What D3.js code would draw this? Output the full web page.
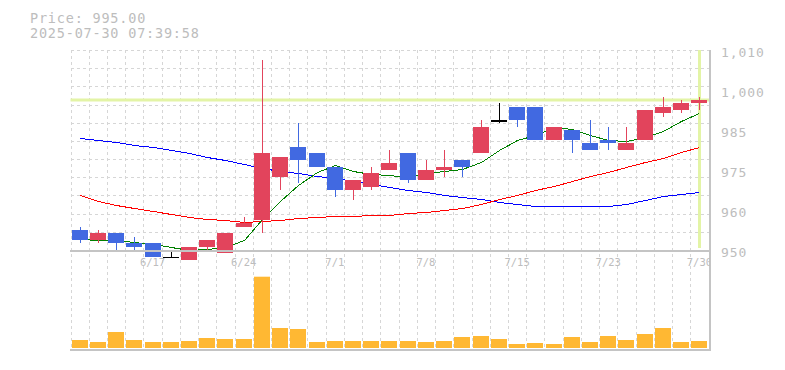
<!DOCTYPE html>
<html>
<head>
<meta charset="utf-8">
<script src="https://cdn.jsdelivr.net/npm/d3@7"></script>
<style>
  body { margin: 0; background: #fff; }
  text { font-family: "DejaVu Sans Mono", monospace; }
</style>
</head>
<body>
<script>
// daily candles, 6/11 - 7/30
const dates = ["6/11","6/12","6/13","6/16","6/17","6/18","6/19","6/20","6/23","6/24",
  "6/25","6/26","6/27","6/30","7/1","7/2","7/3","7/4","7/7","7/8",
  "7/9","7/10","7/11","7/14","7/15","7/16","7/17","7/18","7/22","7/23",
  "7/24","7/25","7/28","7/29","7/30"]
const opens  = [956,953,955,952,952,948,947,951,949,957,959,972,981,979,975,968,969,974,979,971,974,977,979,989,993,993,983,986,982,983,980,983,991,992,994]
const highs  = [957,956,955,954,952,950,951,953,955,960,1007,978,988,979,975,971,975,980,979,977,980,977,989,994,993,993,987,986,989,987,987,992,996,995,996]
const lows   = [952,952,950,950,948,948,947,950,949,957,955,968,970,975,966,965,968,974,970,971,972,972,979,988,987,983,983,979,980,980,980,983,990,991,992]
const closes = [953,955,952,951,948,948,951,953,955,958,979,978,977,975,968,971,973,976,971,974,975,975,987,989,989,983,987,983,980,982,982,992,993,994,995]
const volumes = [80000,60000,160000,80000,60000,60000,70000,100000,90000,90000,713000,200000,190000,60000,70000,70000,70000,70000,70000,60000,70000,110000,120000,90000,40000,50000,40000,110000,60000,120000,80000,140000,200000,60000,70000]

// moving averages
const maShort = [953.3,953.1,952.9,952.4,951.8,950.8,950.0,950.2,951.0,953.0,959.2,964.6,969.4,973.4,975.4,973.8,972.8,972.6,971.8,973.0,973.8,974.2,976.4,980.0,983.0,984.6,987.0,986.2,984.4,983.0,982.8,983.8,985.8,988.6,991.2]
const maMid   = [966.5,964.8,963.6,962.7,961.7,960.8,960.0,959.4,958.9,958.5,958.6,959.0,959.6,960.0,960.2,960.3,960.4,960.6,961.0,961.3,962.0,962.6,963.9,965.3,966.6,968.0,969.2,970.6,972.1,973.5,974.9,976.3,977.7,979.3,981.0]
const maLong  = [983.5,983.0,982.3,981.6,980.8,980.0,979.0,978.0,976.9,975.7,974.5,973.6,973.0,972.3,971.6,970.7,969.8,969.0,968.1,967.3,966.5,965.8,965.2,964.5,963.8,963.3,963.2,963.2,963.2,963.2,963.7,965.0,966.1,966.8,967.5]

const lastPrice = 995
const priceText = "Price: 995.00"
const timeText = "2025-07-30 07:39:58"

const yTickValues = [950, 962, 974, 986, 998, 1010]
const yTickLabels = ["950","960","975","985","1,000","1,010"]
const xTickDates = ["6/17","6/24","7/1","7/8","7/15","7/23","7/30"]

const W = 785, H = 370
const plotLeft = 70.5, bandRight = 708.5, plotRight = 710
const plotTop = 50, priceBottom = 250, volBottom = 348, axisBottom = 350

const RED = "#e2445c", BLUE = "#4169e1", ORANGE = "#ffb833", HILITE = "#e3f4a6", GRID = "#d6d6d6", LABEL = "#bdbdbd"

const svg = d3.select("body").append("svg")
    .attr("width", W)
    .attr("height", H)

const x = d3.scaleBand().domain(dates).range([plotLeft, bandRight]).padding(0)
const bw = x.bandwidth()
const cx = d => Math.round(x(d) + bw / 2) + 0.5

const y = d3.scaleLinear().domain([950, 1010]).range([priceBottom, plotTop])
const yVol = d3.scaleLinear().domain([0, 1000000]).range([volBottom, volBottom - 100])

svg.append("defs").append("clipPath").attr("id", "plot")
  .append("rect").attr("x", plotLeft).attr("y", plotTop).attr("width", plotRight - plotLeft).attr("height", axisBottom - plotTop)

// header
svg.append("text").text(priceText).attr("x", 30).attr("y", 23)
  .attr("fill", LABEL).attr("font-size", 13.5).attr("letter-spacing", 0.8)
svg.append("text").text(timeText).attr("x", 30).attr("y", 38)
  .attr("fill", LABEL).attr("font-size", 13.5).attr("letter-spacing", 0.8)

// grid
const grid = svg.append("g").attr("stroke", GRID).attr("stroke-dasharray", "3,3").attr("shape-rendering", "crispEdges")
const bounds = dates.map(d => x(d)).concat([bandRight])
grid.selectAll("line.v").data(bounds).enter().append("line")
    .attr("class", "v")
    .attr("x1", d => Math.round(d) + 0.5).attr("x2", d => Math.round(d) + 0.5)
    .attr("y1", plotTop).attr("y2", volBottom)
grid.selectAll("line.h").data(d3.range(11)).enter().append("line")
    .attr("class", "h")
    .attr("x1", plotLeft).attr("x2", plotRight)
    .attr("y1", k => Math.round(plotTop + k * (priceBottom - plotTop) / 11) + 0.5)
    .attr("y2", k => Math.round(plotTop + k * (priceBottom - plotTop) / 11) + 0.5)

// current price highlight
svg.append("line")
    .attr("x1", plotLeft).attr("x2", plotRight)
    .attr("y1", y(lastPrice)).attr("y2", y(lastPrice))
    .attr("stroke", HILITE).attr("stroke-width", 3)
svg.append("line")
    .attr("x1", cx(dates[dates.length - 1])).attr("x2", cx(dates[dates.length - 1]))
    .attr("y1", plotTop).attr("y2", priceBottom - 2)
    .attr("stroke", HILITE).attr("stroke-width", 3)

// moving averages
const maLine = d3.line().x((d, i) => cx(dates[i])).y(d => Math.round(y(d)) + 0.5)
const lines = svg.append("g").attr("fill", "none").attr("shape-rendering", "crispEdges")
lines.append("path").datum(maLong).attr("d", maLine).attr("stroke", "#0000ff")
lines.append("path").datum(maMid).attr("d", maLine).attr("stroke", "#ff0000")
lines.append("path").datum(maShort).attr("d", maLine).attr("stroke", "#008000")

// candles
const candleColor = i => closes[i] > opens[i] ? RED : (closes[i] < opens[i] ? BLUE : "#000")
const candles = svg.append("g").attr("shape-rendering", "crispEdges")
  .selectAll("g").data(dates).enter().append("g")
candles.append("line")
    .attr("x1", d => cx(d)).attr("x2", d => cx(d))
    .attr("y1", (d, i) => y(highs[i])).attr("y2", (d, i) => y(lows[i]))
    .attr("stroke", (d, i) => candleColor(i))
candles.append("rect")
    .attr("x", d => Math.round(x(d) + 1.1))
    .attr("width", 16)
    .attr("y", (d, i) => y(Math.max(opens[i], closes[i])))
    .attr("height", (d, i) => Math.max(1.5, Math.abs(y(opens[i]) - y(closes[i]))))
    .attr("fill", (d, i) => candleColor(i))

// volume
svg.append("g").selectAll("rect").data(volumes).enter().append("rect")
    .attr("x", (d, i) => Math.round(x(dates[i]) + 1.1))
    .attr("width", 16)
    .attr("y", d => yVol(d))
    .attr("height", d => volBottom - yVol(d))
    .attr("fill", ORANGE)

// axes frame
const frame = svg.append("g").attr("stroke", "#c4c4c4").attr("shape-rendering", "crispEdges")
frame.append("line").attr("x1", plotLeft - 0.5).attr("x2", plotRight).attr("y1", priceBottom + 0.5).attr("y2", priceBottom + 0.5).attr("stroke-width", 2)
frame.append("line").attr("x1", plotLeft - 0.5).attr("x2", plotRight).attr("y1", axisBottom).attr("y2", axisBottom).attr("stroke-width", 2)
frame.append("line").attr("x1", plotRight).attr("x2", plotRight).attr("y1", plotTop).attr("y2", axisBottom + 1).attr("stroke-width", 2)

// x labels
svg.append("g").attr("clip-path", "url(#plot)")
  .selectAll("text").data(xTickDates).enter().append("text")
    .text(d => d)
    .attr("x", d => x(d) + bw / 2)
    .attr("y", 266)
    .attr("text-anchor", "middle")
    .attr("fill", LABEL)
    .attr("font-size", 10.5)

// y labels
svg.append("g").selectAll("text").data(yTickValues).enter().append("text")
    .text((d, i) => yTickLabels[i])
    .attr("x", 721)
    .attr("y", d => y(d) + 7)
    .attr("fill", LABEL)
    .attr("font-size", 13)
    .attr("letter-spacing", 0.9)
</script>
</body>
</html>
